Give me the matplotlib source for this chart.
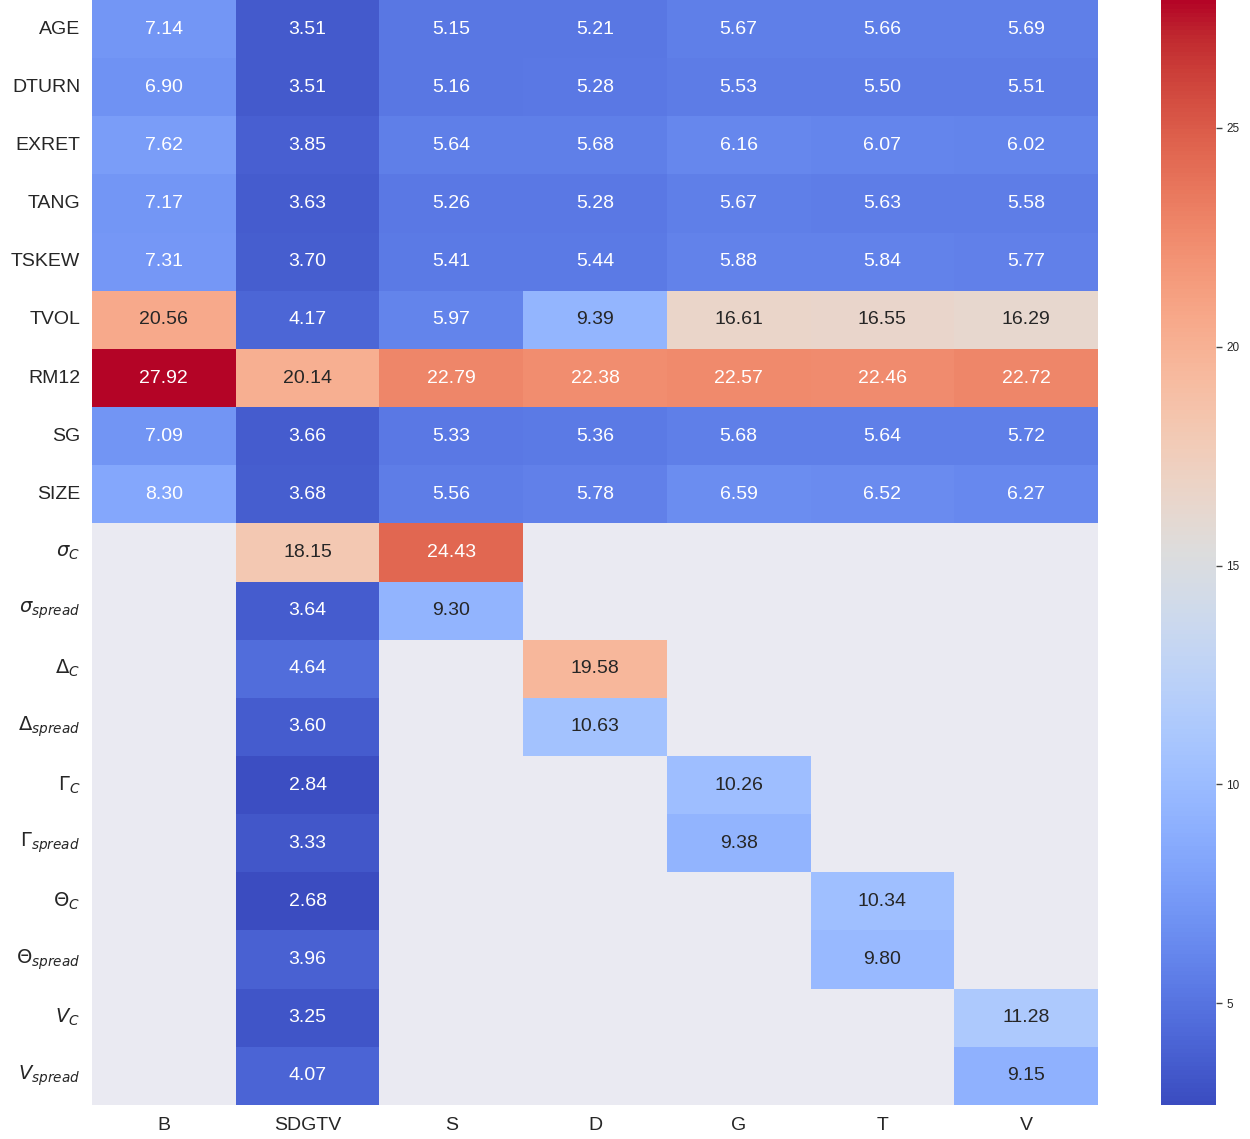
import numpy as np
import pandas as pd
import matplotlib
matplotlib.use("Agg")
import matplotlib.pyplot as plt
import seaborn as sns

columns = ["B", "SDGTV", "S", "D", "G", "T", "V"]
rows = ["AGE", "DTURN", "EXRET", "TANG", "TSKEW", "TVOL", "RM12", "SG", "SIZE",
        r"$\sigma_C$", r"$\sigma_{spread}$", r"$\Delta_C$", r"$\Delta_{spread}$",
        r"$\Gamma_C$", r"$\Gamma_{spread}$", r"$\Theta_C$", r"$\Theta_{spread}$",
        r"$V_C$", r"$V_{spread}$"]

nan = np.nan
col_B = [7.14, 6.90, 7.62, 7.17, 7.31, 20.56, 27.92, 7.09, 8.30,
         nan, nan, nan, nan, nan, nan, nan, nan, nan, nan]
col_SDGTV = [3.51, 3.51, 3.85, 3.63, 3.70, 4.17, 20.14, 3.66, 3.68,
             18.15, 3.64, 4.64, 3.60, 2.84, 3.33, 2.68, 3.96, 3.25, 4.07]
col_S = [5.15, 5.16, 5.64, 5.26, 5.41, 5.97, 22.79, 5.33, 5.56,
         24.43, 9.30, nan, nan, nan, nan, nan, nan, nan, nan]
col_D = [5.21, 5.28, 5.68, 5.28, 5.44, 9.39, 22.38, 5.36, 5.78,
         nan, nan, 19.58, 10.63, nan, nan, nan, nan, nan, nan]
col_G = [5.67, 5.53, 6.16, 5.67, 5.88, 16.61, 22.57, 5.68, 6.59,
         nan, nan, nan, nan, 10.26, 9.38, nan, nan, nan, nan]
col_T = [5.66, 5.50, 6.07, 5.63, 5.84, 16.55, 22.46, 5.64, 6.52,
         nan, nan, nan, nan, nan, nan, 10.34, 9.80, nan, nan]
col_V = [5.69, 5.51, 6.02, 5.58, 5.77, 16.29, 22.72, 5.72, 6.27,
         nan, nan, nan, nan, nan, nan, nan, nan, 11.28, 9.15]

df = pd.DataFrame({"B": col_B, "SDGTV": col_SDGTV, "S": col_S, "D": col_D,
                   "G": col_G, "T": col_T, "V": col_V}, index=rows)[columns]

sns.set_theme()
plt.rcParams["font.family"] = ["Liberation Sans", "DejaVu Sans"]
plt.rcParams["mathtext.fontset"] = "dejavusans"

fig = plt.figure(figsize=(12.5, 11.39), dpi=100)
ax = fig.add_axes([0.0736, 0.0299, 0.8048, 0.9701])
cax = fig.add_axes([0.9288, 0.0299, 0.044, 0.9701])

sns.heatmap(df, ax=ax, cbar_ax=cax, cmap="coolwarm", annot=True, fmt=".2f",
            annot_kws={"size": 14})
ax.grid(False)
ax.tick_params(axis="y", labelsize=14, length=0, pad=8.5)
ax.tick_params(axis="x", labelsize=14, length=0, pad=8.5)
ax.set_yticklabels(ax.get_yticklabels(), rotation=0)
ax.set_xticklabels(ax.get_xticklabels(), rotation=0)
cax.tick_params(labelsize=8.5, length=4, width=1, color="#444444")

fig.savefig("out.png", dpi=100)
